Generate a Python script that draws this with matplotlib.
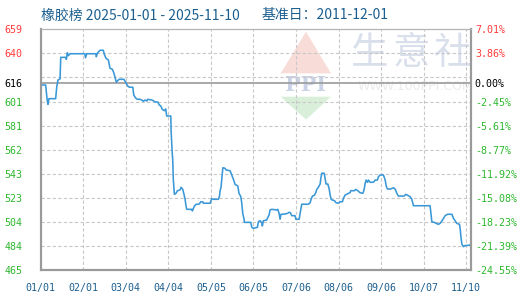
import numpy as np
import matplotlib
matplotlib.use("Agg")
import matplotlib.pyplot as plt
from matplotlib.patches import Polygon

# ---- data ----
day_index = [0, 3.6, 4.1, 4.8, 5.3, 6, 10.9, 11.7, 12.6, 14.1, 14.6, 18.4, 18.7, 19.4, 20.1, 21.4,
             32.1, 32.7, 33.5, 40.3, 40.5, 41.4, 43.2, 45.6, 46.5, 47.6, 49.3, 50.5, 52.2, 53.4,
             54.2, 55.1, 56.1, 57.1, 60.7, 62, 63.4, 64.6, 67.1, 67.8, 69.2, 70.4, 72.4, 73.6,
             74.8, 76, 77.3, 78, 80.9, 82.1, 83.3, 85.3, 86.4, 87.5, 88.6, 90.1, 91.1, 91.8,
             94.8, 95, 95.7, 96.2, 96.6, 97.4, 98.6, 99.6, 101.5, 102.3, 103.5, 104.4, 105.2,
             105.9, 106.4, 110.1, 110.5, 112, 113.2, 115.6, 116.6, 118.1, 118.5, 123.4, 124.6,
             125.8, 129.4, 130.2, 130.7, 131.4, 132.1, 132.7, 134.3, 135.1, 138, 139.2, 140.4,
             141.6, 143.6, 144.5, 145.8, 146.5, 147.2, 148.2, 148.4, 153.1, 153.8, 155, 157.9,
             158.6, 159.8, 161.1, 161.5, 162.2, 164.7, 165.5, 166.4, 167.1, 168.4, 172, 172.7,
             173.7, 174.4, 175.1, 177.6, 180, 181, 181.9, 182.9, 185.3, 185.9, 188.3, 189,
             189.7, 190.2, 195, 196.3, 197, 198, 199.4, 200.4, 201.2, 202.3, 203.6, 204.1,
             204.8, 206.5, 207.2, 207.9, 209.2, 210.1, 210.9, 211.6, 212.5, 214, 215.2, 216.9,
             218.1, 219.8, 220.6, 221.8, 223, 224.2, 225.4, 225.9, 228.6, 229.6, 231, 232.7,
             234.7, 235.6, 236.4, 237.1, 238.1, 238.8, 240, 242.4, 243.7, 245.3, 246.1, 247.3,
             249.7, 251, 251.7, 252.6, 255.1, 257, 258.2, 259.5, 260.6, 264.8, 266, 267.9,
             269.2, 270.4, 271.6, 283.7, 284.3, 285, 286.7, 288.1, 289.8, 291, 292.3, 294.7,
             296.4, 299.6, 300.7, 302, 303.2, 305.1, 305.6, 306.3, 306.9, 308, 308.7, 313]
prices = [614.1, 614.1, 608.7, 601.2, 598.5, 603.1, 603.1, 612.7, 618.1, 619, 636.4, 636.4, 634.8,
          640.1, 637.7, 639.3, 639.3, 636.1, 639.3, 639.3, 636.9, 639.9, 642.1, 642.1, 638.3,
          635.6, 634.3, 627.6, 626.8, 623.5, 620, 616.3, 617.6, 618.7, 618.7, 616, 613.3, 612.3,
          612.3, 606, 603.6, 602.6, 602.6, 602, 601, 602, 601.2, 602.6, 602, 601.5, 600.4,
          600.4, 598, 597.2, 594.5, 593.4, 594.8, 589.1, 589.1, 577.8, 561.7, 553.7, 538.4,
          526, 526.8, 528.9, 529.5, 531.7, 530, 526, 522, 516.6, 513.9, 513.9, 512.6, 516.6,
          517.9, 518.2, 520, 520, 518.8, 518.8, 522.5, 522, 522, 524.1, 528.9, 531.7, 540.2,
          547.4, 547, 545.6, 545, 541.6, 538.1, 534.1, 532.7, 526.8, 524.1, 518.8, 510.7,
          505.9, 503.4, 503.4, 499.4, 498.6, 499.4, 503.9, 504.7, 503.1, 500.5, 504.7, 505.3,
          507.5, 509.3, 513.4, 513.9, 513.4, 513.9, 510.7, 505.9, 509.9, 510.1, 510.7, 511.5,
          511.2, 508.8, 508.8, 505.9, 505.9, 510.7, 514.7, 518, 518, 519.2, 522, 524.6, 525.2,
          527.3, 530, 531.7, 534.3, 538.9, 543, 543, 538.9, 534.3, 534.3, 530.8, 525.4, 522,
          521.4, 520.9, 519.2, 518.8, 520, 520, 522.8, 525.4, 526, 526.8, 527.3, 528.9, 528.9,
          530, 528.9, 527.3, 526.8, 529.5, 534.9, 537.5, 535.7, 537.5, 535.7, 535.7, 537.5,
          537.5, 540.2, 541.6, 541.6, 537.5, 532.9, 530.3, 530.3, 531.3, 530.3, 526.8, 524.6,
          524.6, 526, 524.9, 524.1, 522, 516.8, 516.8, 510.7, 503.9, 503.4, 502.6, 501.8,
          502.6, 504.5, 508.8, 509.9, 509.9, 506.7, 504.5, 502.6, 501.8, 498.6, 490.5, 485.7,
          483.8, 484.6, 485.1]

x_tick_labels = ["01/01", "02/01", "03/04", "04/04", "05/05", "06/05",
                 "07/06", "08/06", "09/06", "10/07", "11/10"]
grid_values = [659, 639.6, 620.2, 600.8, 581.4, 562, 542.6, 523.2, 503.8, 484.4, 465]
left_labels = ["659", "640", "", "601", "581", "562", "543", "523", "504", "484", "465"]
right_labels = ["7.01%", "3.86%", "", "-2.45%", "-5.61%", "-8.77%", "-11.92%",
                "-15.08%", "-18.23%", "-21.39%", "-24.55%"]
base_value = 616
base_left_label = "616"
base_right_label = "0.00%"
title_left = "橡胶榜 2025-01-01 - 2025-11-10"
title_right = "基准日：2011-12-01"

RED = "#ff3b3b"
GREEN = "#2db82d"
BLUE_TXT = "#1b5f8f"
GRID = "#c8c8c8"
SPINE = "#9a9a9a"

plt.rcParams["font.family"] = ["DejaVu Sans Mono"]

fig = plt.figure(figsize=(5.2, 3.0), dpi=100)
ax = fig.add_axes([40.7 / 520, 1 - 270 / 300, 430 / 520, 240.7 / 300])
ax.set_xlim(0, 313.3)
ax.set_ylim(465, 659)

# watermark
wm_col = "#d9dfeb"
for ch, xf in zip("生意社", [0.766, 0.863, 0.958]):
    ax.text(xf, 0.90, ch, transform=ax.transAxes, fontsize=27, color=wm_col,
            family=["Noto Sans CJK SC"], ha="center", va="center", zorder=0)
ax.text(0.872, 0.762, "WWW.100PPI.COM", transform=ax.transAxes, fontsize=9,
        color="#ebebeb", family=["DejaVu Sans"], ha="center", va="center", zorder=0,
        clip_on=False)
tri_red = Polygon([[0.558, 0.817], [0.617, 0.99], [0.675, 0.817]], closed=True,
                  transform=ax.transAxes, facecolor="#f8dcd8", edgecolor="none", zorder=0)
tri_grn = Polygon([[0.558, 0.72], [0.617, 0.625], [0.675, 0.72]], closed=True,
                  transform=ax.transAxes, facecolor="#d9efd9", edgecolor="none", zorder=0)
ax.add_patch(tri_red)
ax.add_patch(tri_grn)
ax.text(0.617, 0.77, "PPI", transform=ax.transAxes, fontsize=15, color="#c9d3e5",
        family=["DejaVu Serif"], weight="bold", ha="center", va="center", zorder=0)

# grid
tick_pos = np.arange(len(x_tick_labels)) * 31
for v in grid_values:
    ax.axhline(v, color=GRID, lw=0.8, ls=(0, (3, 2)), zorder=1)
for p in tick_pos:
    ax.axvline(p, color=GRID, lw=0.8, ls=(0, (3, 2)), zorder=1)
ax.axhline(base_value, color=SPINE, lw=1.2, zorder=2)

# line
ax.plot(day_index, prices, color="#3a98d8", lw=1.15, zorder=3)

# x axis
ax.set_xticks(tick_pos)
ax.set_xticklabels(x_tick_labels, color=BLUE_TXT, fontsize=7.2)
ax.tick_params(axis="x", length=0, pad=9)

# left y axis
lt_vals = [v for v, l in zip(grid_values, left_labels) if l] + [base_value]
lt_labs = [l for l in left_labels if l] + [base_left_label]
ax.set_yticks(lt_vals)
ax.set_yticklabels(lt_labs, fontsize=7.2)
ax.tick_params(axis="y", length=0, pad=13)
for v, t in zip(lt_vals, ax.get_yticklabels()):
    t.set_color("black" if v == base_value else (RED if v > base_value else GREEN))

# right y axis
ax2 = ax.twinx()
ax2.set_ylim(ax.get_ylim())
rt_vals = [v for v, l in zip(grid_values, right_labels) if l] + [base_value]
rt_labs = [l for l in right_labels if l] + [base_right_label]
ax2.set_yticks(rt_vals)
ax2.set_yticklabels(rt_labs, fontsize=7.2)
ax2.tick_params(axis="y", length=0, pad=3)
for v, t in zip(rt_vals, ax2.get_yticklabels()):
    t.set_color("black" if v == base_value else (RED if v > base_value else GREEN))

for a in (ax, ax2):
    for s in ("left", "bottom", "right"):
        a.spines[s].set_color(SPINE)
        a.spines[s].set_linewidth(1.5)
    a.spines["top"].set_color("#b5b5b5")
    a.spines["top"].set_linewidth(0.8)

# title
fig.text(40.7 / 520, 1 - 15.5 / 300, title_left, fontsize=10, color=BLUE_TXT,
         family=["Noto Sans CJK SC", "DejaVu Sans"], ha="left", va="center")
fig.text(261.7 / 520, 1 - 15.5 / 300, title_right, fontsize=10, color=BLUE_TXT,
         family=["Noto Sans CJK SC", "DejaVu Sans"], ha="left", va="center")

fig.savefig("out.png", dpi=100)
